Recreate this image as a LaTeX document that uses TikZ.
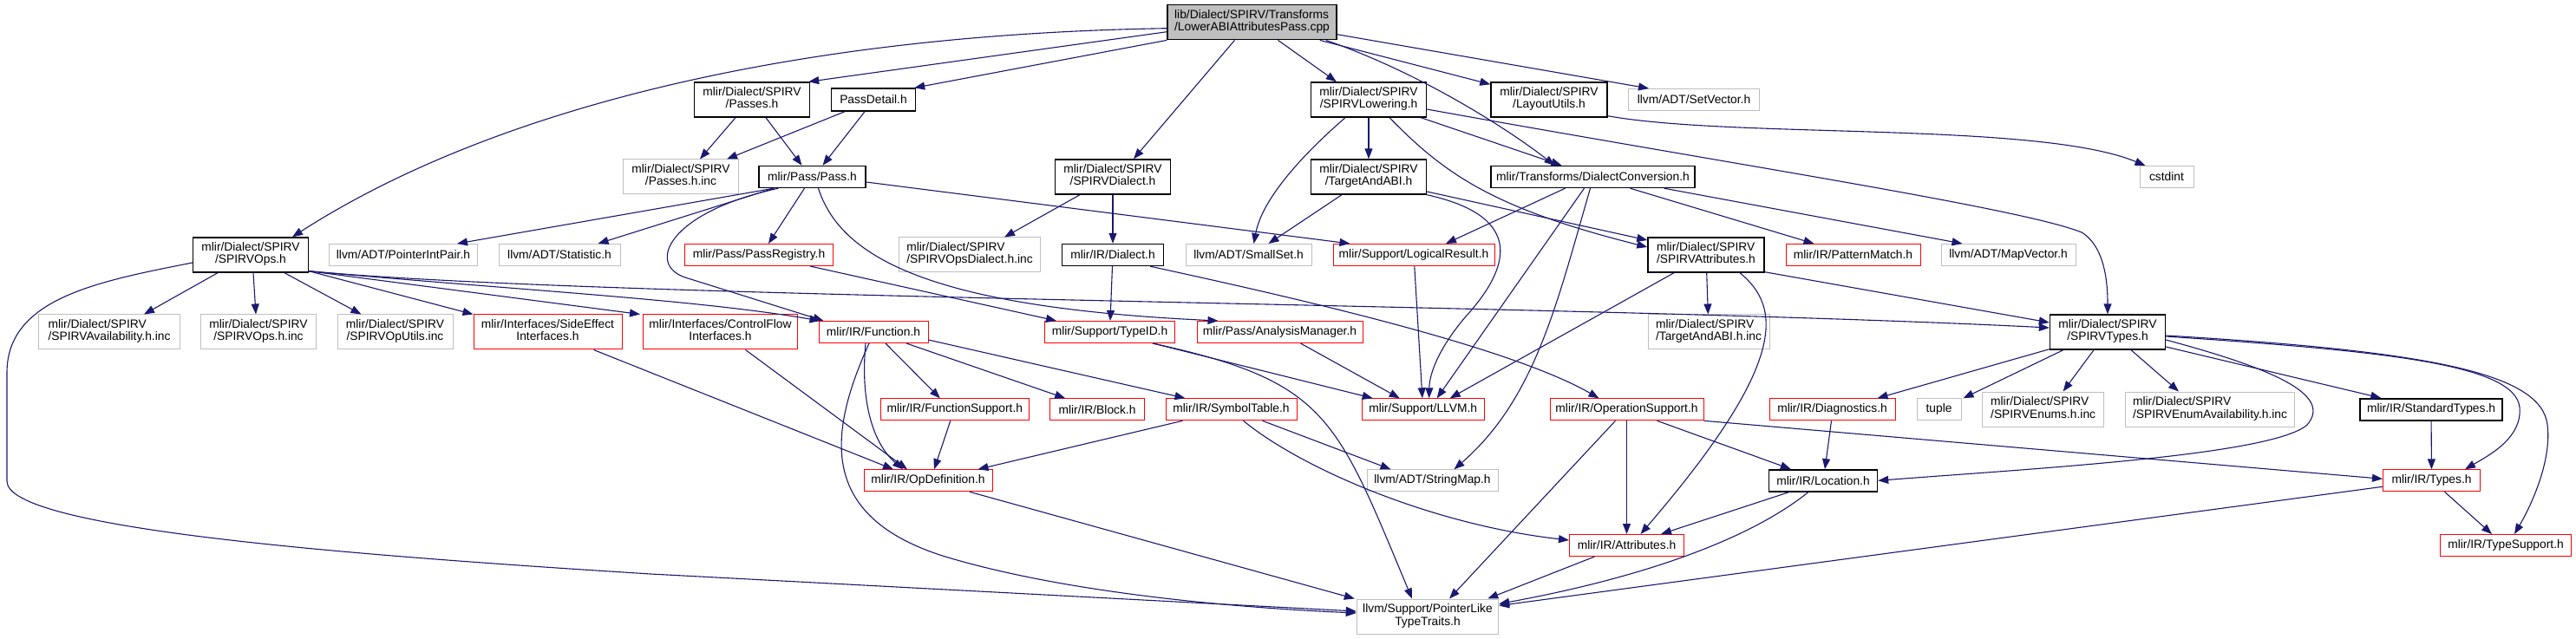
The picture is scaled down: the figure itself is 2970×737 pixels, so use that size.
\documentclass[tikz,border=0pt]{standalone}
\usepackage{fontspec}
\setmainfont{Liberation Sans}
\usetikzlibrary{arrows.meta,calc}
\definecolor{edgec}{HTML}{191970}
\definecolor{gryc}{HTML}{BFBFBF}
\definecolor{redc}{HTML}{FF0000}
\newcommand\fnt{\fontsize{6.9pt}{6.7pt}\selectfont}
\newcommand\twol[2]{\begin{tabular}{@{}l@{}}#1\\\multicolumn{1}{@{}c@{}}{#2}\end{tabular}}
\begin{document}
\begin{tikzpicture}[x=0.5pt,y=-0.5pt,
 nb/.style={rectangle,inner sep=0pt,font=\fnt,line width=0.5pt,minimum height=12.5pt},
 tw/.style={minimum height=20pt},
 blk/.style={nb,draw=black,line width=0.7pt},
 gry/.style={nb,draw=gryc},
 rdn/.style={nb,draw=redc},
 topn/.style={nb,draw=black,fill=gryc,line width=0.7pt},
 edge/.style={draw=edgec,line width=0.55pt,-{Triangle[length=6pt,width=4.5pt]}},
]
\useasboundingbox (0,0) rectangle (2970,737);
% nodes
\node[topn,tw,minimum width=97.5pt] (top) at (1443.5,25.7) {\twol{lib/Dialect/SPIRV/Transforms}{/LowerABIAttributesPass.cpp}};
\node[blk,tw,minimum width=66.5pt] (ops) at (289,294) {\twol{mlir/Dialect/SPIRV}{/SPIRVOps.h}};
\node[gry,minimum width=85.5pt] (pip) at (465,294) {llvm/ADT/PointerIntPair.h};
\node[gry,minimum width=70pt] (stat) at (645,294) {llvm/ADT/Statistic.h};
\node[gry,tw,minimum width=66.5pt] (passesinc) at (785,204) {\twol{mlir/Dialect/SPIRV}{/Passes.h.inc}};
\node[blk,tw,minimum width=66.5pt] (passes) at (867,115) {\twol{mlir/Dialect/SPIRV}{/Passes.h}};
\node[blk,minimum width=48.5pt,minimum height=13pt] (pdetail) at (1007,115) {PassDetail.h};
\node[blk,minimum width=61.5pt] (pass) at (936.5,204) {mlir/Pass/Pass.h};
\node[blk,tw,minimum width=66.5pt] (spdialect) at (1283,204) {\twol{mlir/Dialect/SPIRV}{/SPIRVDialect.h}};
\node[rdn,minimum width=85.5pt] (preg) at (875,294) {mlir/Pass/PassRegistry.h};
\node[gry,tw,minimum width=81.5pt] (opsdinc) at (1118,294) {\twol{mlir/Dialect/SPIRV}{/SPIRVOpsDialect.h.inc}};
\node[blk,minimum width=58.5pt] (dialect) at (1283,294) {mlir/IR/Dialect.h};
\node[gry,minimum width=72.5pt] (smallset) at (1439.5,294) {llvm/ADT/SmallSet.h};
\node[blk,tw,minimum width=66.5pt] (lowering) at (1578,115) {\twol{mlir/Dialect/SPIRV}{/SPIRVLowering.h}};
\node[blk,tw,minimum width=67pt] (layout) at (1786,115) {\twol{mlir/Dialect/SPIRV}{/LayoutUtils.h}};
\node[gry,minimum width=75.5pt] (setvec) at (1953,115) {llvm/ADT/SetVector.h};
\node[blk,tw,minimum width=66.5pt] (tabi) at (1578,204) {\twol{mlir/Dialect/SPIRV}{/TargetAndABI.h}};
\node[blk,minimum width=117.5pt] (dconv) at (1836.5,204) {mlir/Transforms/DialectConversion.h};
\node[rdn,minimum width=93pt] (logres) at (1630,294) {mlir/Support/LogicalResult.h};
\node[blk,tw,minimum width=67pt] (spattr) at (1967,294) {\twol{mlir/Dialect/SPIRV}{/SPIRVAttributes.h}};
\node[rdn,minimum width=77.5pt] (pmatch) at (2136.5,294) {mlir/IR/PatternMatch.h};
\node[gry,minimum width=31pt] (cstdint) at (2498,204) {cstdint};
\node[gry,minimum width=77.5pt] (mapvec) at (2315.5,294) {llvm/ADT/MapVector.h};
\node[gry,tw,minimum width=81.5pt] (availinc) at (126,383) {\twol{mlir/Dialect/SPIRV}{/SPIRVAvailability.h.inc}};
\node[gry,tw,minimum width=66.5pt] (opsinc) at (298,383) {\twol{mlir/Dialect/SPIRV}{/SPIRVOps.h.inc}};
\node[gry,tw,minimum width=66.5pt] (oputils) at (455.5,383) {\twol{mlir/Dialect/SPIRV}{/SPIRVOpUtils.inc}};
\node[rdn,tw,minimum width=85.5pt] (sideeff) at (631.5,383) {\twol{mlir/Interfaces/SideEffect}{Interfaces.h}};
\node[rdn,tw,minimum width=89pt] (ctrlflow) at (830.5,383) {\twol{mlir/Interfaces/ControlFlow}{Interfaces.h}};
\node[rdn,minimum width=63pt] (function) at (1007,383) {mlir/IR/Function.h};
\node[rdn,minimum width=75pt] (typeid) at (1279.5,383) {mlir/Support/TypeID.h};
\node[rdn,minimum width=95.5pt] (amgr) at (1475.5,383) {mlir/Pass/AnalysisManager.h};
\node[gry,tw,minimum width=70pt] (tabiinc) at (1970,383) {\twol{mlir/Dialect/SPIRV}{/TargetAndABI.h.inc}};
\node[blk,tw,minimum width=66.5pt] (sptypes) at (2430,383) {\twol{mlir/Dialect/SPIRV}{/SPIRVTypes.h}};
\node[rdn,minimum width=85.5pt] (fsupport) at (1100.8,472.3) {mlir/IR/FunctionSupport.h};
\node[rdn,minimum width=54.3pt] (block) at (1265,472.3) {mlir/IR/Block.h};
\node[rdn,minimum width=75.5pt] (symtab) at (1419.5,472.3) {mlir/IR/SymbolTable.h};
\node[rdn,minimum width=70.5pt] (llvm) at (1640.7,472.3) {mlir/Support/LLVM.h};
\node[rdn,minimum width=88.5pt] (opsupport) at (1875.5,472.3) {mlir/IR/OperationSupport.h};
\node[rdn,minimum width=72.5pt] (diag) at (2112.5,472.3) {mlir/IR/Diagnostics.h};
\node[gry,minimum width=25.5pt] (tuple) at (2235.5,472.3) {tuple};
\node[gry,tw,minimum width=70pt] (enumsinc) at (2355.6,472) {\twol{mlir/Dialect/SPIRV}{/SPIRVEnums.h.inc}};
\node[gry,tw,minimum width=97.8pt] (enumavinc) at (2548,472) {\twol{mlir/Dialect/SPIRV}{/SPIRVEnumAvailability.h.inc}};
\node[blk,minimum width=82pt] (stdtypes) at (2803,472.3) {mlir/IR/StandardTypes.h};
\node[rdn,minimum width=74pt] (opdef) at (1070,554.3) {mlir/IR/OpDefinition.h};
\node[gry,minimum width=75.5pt] (strmap) at (1651.5,554.3) {llvm/ADT/StringMap.h};
\node[blk,minimum width=62.5pt] (location) at (2102,554.3) {mlir/IR/Location.h};
\node[rdn,minimum width=56pt] (types) at (2803.5,554.3) {mlir/IR/Types.h};
\node[rdn,minimum width=66pt] (attrs) at (1875.5,629) {mlir/IR/Attributes.h};
\node[rdn,minimum width=75.5pt] (typesupport) at (2889,629) {mlir/IR/TypeSupport.h};
\node[gry,tw,minimum width=81.7pt] (plike) at (1646,711) {\twol{llvm/Support/PointerLike}{TypeTraits.h}};
% edges from top
\draw[edge] ($(top.west)+(0,7)$) .. controls (900,40) and (560,130) .. ($(ops.north)+(48,0)$);
\draw[edge] ($(top.west)+(0,11)$) -- ($(passes.north east)+(-2,0)$);
\draw[edge] (top.south west) -- ($(pdetail.north east)+(-2,0)$);
\draw[edge] ($(top.south)+(-20,0)$) -- ($(spdialect.north)+(24,0)$);
\draw[edge] ($(top.south)+(30,0)$) -- ($(lowering.north west)+(30,0)$);
\draw[edge] ($(top.south east)+(-20,0)$) -- ($(layout.north west)+(0,3)$);
\draw[edge] ($(top.south east)+(-13,0)$) .. controls (1640,85) and (1740,150) .. ($(dconv.north)+(-44,0)$);
\draw[edge] ($(top.east)+(0,14)$) -- ($(setvec.north west)+(24,0)$);
% passes, passdetail
\draw[edge] ($(passes.south)+(-19,0)$) -- ($(passesinc.north)+(22,0)$);
\draw[edge] ($(passes.south)+(16,0)$) -- ($(pass.north)+(-12,0)$);
\draw[edge] ($(pdetail.south)+(-33,0)$) -- ($(passesinc.north)+(53,0)$);
\draw[edge] ($(pdetail.south)+(-10,0)$) -- ($(pass.north)+(12,0)$);
% pass
\draw[edge] ($(pass.south west)+(18,0)$) -- ($(pip.north east)+(-24,0)$);
\draw[edge] ($(pass.south west)+(18,0)$) -- ($(stat.north east)+(-26,0)$);
\draw[edge] ($(pass.south)+(-9,0)$) -- ($(preg.north)+(11,0)$);
\draw[edge] ($(pass.south west)+(23,0)$) .. controls (770,245) and (745,305) .. (790,320) -- ($(function.north west)+(6,0)$);
\draw[edge] ($(pass.east)+(0,6)$) -- ($(logres.north west)+(20,0)$);
\draw[edge] ($(pass.south)+(7,0)$) .. controls (970,300) and (1080,355) .. ($(amgr.north west)+(25,0)$);
% spirv dialect, dialect, registry
\draw[edge] ($(spdialect.south)+(-38,0)$) -- ($(opsdinc.north)+(40,0)$);
\draw[edge] (spdialect) -- (dialect);
\draw[edge] (dialect) -- (typeid);
\draw[edge] ($(dialect.south east)+(-16,0)$) .. controls (1500,345) and (1740,400) .. ($(opsupport.north)+(-32,0)$);
\draw[edge] ($(preg.south east)+(-27,0)$) -- ($(typeid.north west)+(14,0)$);
\draw[edge] (logres) -- (llvm);
\draw[edge] ($(amgr.south)+(24,0)$) -- ($(llvm.north)+(-27,0)$);
\draw[edge] ($(typeid.south east)+(-26,0)$) -- ($(llvm.north west)+(13,0)$);
\draw[edge] ($(typeid.south east)+(-26,0)$) .. controls (1530,440) and (1540,480) .. ($(plike.north)+(-18,0)$);
% function
\draw[edge] ($(function.south)+(-9,0)$) .. controls (992,460) and (1005,510) .. ($(opdef.north)+(-29,0)$);
\draw[edge] ($(function.south)+(-5,0)$) .. controls (955,500) and (940,600) .. (1100,645) .. controls (1250,688) and (1450,702) .. ($(plike.west)+(0,-4)$);
\draw[edge] ($(function.south)+(14,0)$) -- ($(fsupport.north)+(-17,0)$);
\draw[edge] ($(function.south)+(38,0)$) -- ($(block.north west)+(18,0)$);
\draw[edge] ($(function.east)+(0,9)$) -- ($(symtab.north west)+(23,0)$);
\draw[edge] ($(fsupport.south)+(-5,0)$) -- ($(opdef.north)+(7,0)$);
\draw[edge] ($(symtab.south west)+(20,0)$) -- ($(opdef.north east)+(-17,0)$);
\draw[edge] ($(symtab.south east)+(-40,0)$) -- ($(strmap.north west)+(28,0)$);
\draw[edge] ($(symtab.south)+(14,0)$) .. controls (1500,540) and (1650,605) .. ($(attrs.west)+(0,-6)$);
\draw[edge] ($(opdef.south)+(48,0)$) -- ($(plike.north west)+(-2,0)$);
\draw[edge] ($(ctrlflow.south)+(29,0)$) -- ($(opdef.north)+(-24,0)$);
\draw[edge] ($(sideeff.south east)+(-33,0)$) -- ($(opdef.north)+(-40,0)$);
% ops
\draw[edge] ($(ops.south)+(-38,0)$) -- ($(availinc.north)+(40,0)$);
\draw[edge] ($(ops.south)+(3,0)$) -- ($(opsinc.north)+(-3,0)$);
\draw[edge] ($(ops.south)+(39,0)$) -- ($(oputils.north)+(-39,0)$);
\draw[edge] ($(ops.south east)+(0,-2)$) -- (sideeff.north west);
\draw[edge] ($(ops.south east)+(0,-2)$) -- ($(ctrlflow.north west)+(-3,0)$);
\draw[edge] ($(ops.south east)+(0,-2)$) .. controls (600,335) and (800,345) .. ($(function.north west)+(2,0)$);
\draw[edge] ($(ops.south east)+(0,-2)$) .. controls (700,345) and (1800,350) .. ($(sptypes.west)+(0,-5)$);
\draw[edge] ($(ops.west)+(0,9)$) .. controls (110,325) and (8,345) .. (8,430) -- (8,555) .. controls (8,610) and (400,640) .. (750,662) -- ($(plike.west)+(0,-6)$);
% lowering
\draw[edge] (lowering) -- (tabi);
\draw[edge] ($(lowering.south)+(-27,0)$) .. controls (1500,180) and (1455,230) .. ($(smallset.north)+(6,0)$);
\draw[edge] ($(lowering.south east)+(-7,0)$) -- ($(dconv.north)+(-36,0)$);
\draw[edge] ($(lowering.south)+(24,0)$) .. controls (1665,200) and (1720,240) .. ($(spattr.west)+(0,-9)$);
\draw[edge] ($(lowering.east)+(0,11)$) .. controls (2000,190) and (2330,240) .. (2400,268) .. controls (2428,285) and (2430,330) .. (sptypes.north);
% target and abi
\draw[edge] ($(tabi.south)+(-31,0)$) -- ($(smallset.north east)+(-50,0)$);
\draw[edge] ($(tabi.east)+(0,17)$) -- ($(spattr.west)+(0,-17)$);
\draw[edge] (tabi.south east) .. controls (1760,250) and (1740,310) .. (1690,365) .. controls (1660,400) and (1648,430) .. ($(llvm.north)+(7,0)$);
% dialect conversion
\draw[edge] ($(dconv.south)+(-32,0)$) -- ($(logres.north)+(37,0)$);
\draw[edge] ($(dconv.south)+(-10,0)$) -- ($(llvm.north)+(16,0)$);
\draw[edge] ($(dconv.south)+(-3,0)$) .. controls (1795,350) and (1770,460) .. ($(strmap.north)+(25,0)$);
\draw[edge] ($(dconv.south)+(43,0)$) -- ($(pmatch.north west)+(33,0)$);
\draw[edge] ($(dconv.south east)+(-36,0)$) -- ($(mapvec.north west)+(25,0)$);
% spirv attributes
\draw[edge] (spattr) -- (tabiinc);
\draw[edge] ($(spattr.south)+(-37,0)$) -- ($(llvm.north east)+(-40,0)$);
\draw[edge] ($(spattr.south)+(39,0)$) .. controls (2055,355) and (2060,420) .. ($(attrs.north)+(16,0)$);
\draw[edge] ($(spattr.south east)+(0,-1)$) -- ($(sptypes.west)+(0,-11)$);
% layout utils
\draw[edge] ($(layout.south east)+(0,-2)$) .. controls (2000,160) and (2350,140) .. ($(cstdint.north west)+(7,0)$);
% operation support etc.
\draw[edge] ($(opsupport.south)+(-13,0)$) -- ($(plike.north)+(25,0)$);
\draw[edge] (opsupport) -- (attrs);
\draw[edge] ($(opsupport.south)+(35,0)$) -- ($(location.north west)+(26,0)$);
\draw[edge] (opsupport.south east) -- ($(types.west)+(0,-2)$);
\draw[edge] ($(diag.south)+(-1,0)$) -- ($(location.north)+(2,0)$);
\draw[edge] ($(location.south)+(-39,0)$) -- ($(attrs.north east)+(-27,0)$);
\draw[edge] ($(location.south)+(-17,0)$) .. controls (2020,620) and (1900,665) .. ($(plike.north east)+(0,6)$);
\draw[edge] ($(attrs.south)+(-37,0)$) -- ($(plike.north east)+(-13,0)$);
\draw[edge] ($(types.west)+(0,7)$) -- ($(plike.north east)+(0,8)$);
\draw[edge] ($(types.south)+(15,0)$) -- ($(typesupport.north)+(-16,0)$);
\draw[edge] (stdtypes) -- (types);
% spirv types
\draw[edge] ($(sptypes.south west)+(0,-1)$) -- ($(diag.north east)+(-21,0)$);
\draw[edge] ($(sptypes.south west)+(16,0)$) -- ($(tuple.north east)+(2,0)$);
\draw[edge] ($(sptypes.south)+(-16,0)$) -- ($(enumsinc.north)+(23,0)$);
\draw[edge] ($(sptypes.south)+(27,0)$) -- ($(enumavinc.north)+(-36,0)$);
\draw[edge] ($(sptypes.east)+(0,17)$) -- ($(stdtypes.north west)+(25,0)$);
\draw[edge] ($(sptypes.east)+(0,9)$) .. controls (2620,425) and (2690,455) .. (2660,490) .. controls (2620,525) and (2350,540) .. (location.east);
\draw[edge] ($(sptypes.east)+(0,5)$) .. controls (2750,405) and (2900,420) .. (2905,470) .. controls (2908,505) and (2870,525) .. ($(types.north east)+(-18,0)$);
\draw[edge] ($(sptypes.east)+(0,4)$) .. controls (2800,405) and (2930,430) .. (2937,490) .. controls (2942,530) and (2920,580) .. ($(typesupport.north)+(10,0)$);
\end{tikzpicture}
\end{document}
